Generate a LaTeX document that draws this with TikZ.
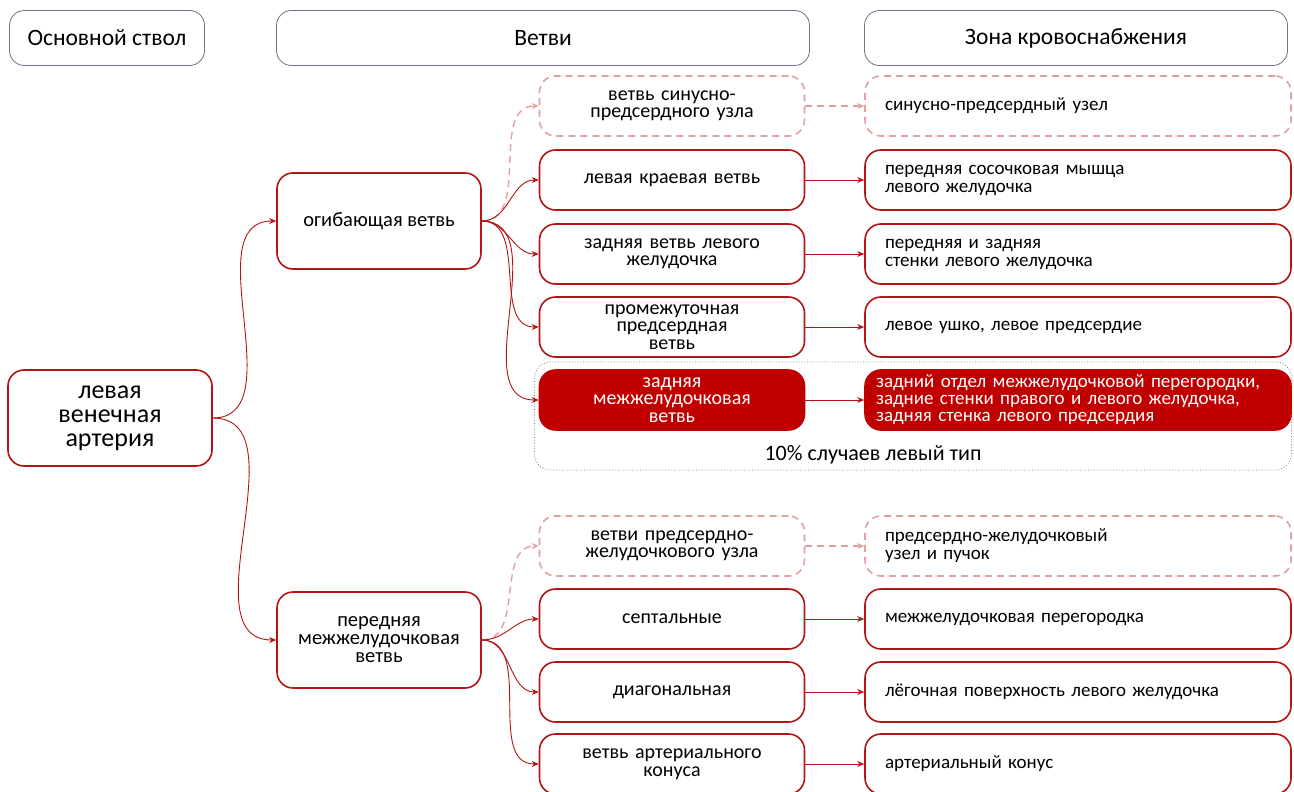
\documentclass[tikz,border=0pt]{standalone}
\usepackage{fontspec}
\setmainfont{Carlito}
\usetikzlibrary{arrows.meta}
\definecolor{arteryred}{RGB}{180,20,20}
\definecolor{hotred}{RGB}{192,0,0}
\definecolor{faintred}{RGB}{226,160,160}
\definecolor{headgray}{RGB}{105,115,135}
\definecolor{framegray}{RGB}{140,115,105}

\begin{document}
\begin{tikzpicture}[x=1pt,y=-1pt,
    headbox/.style={draw=headgray,rounded corners=15pt,line width=0.8pt,minimum height=55pt,font=\fontsize{23.5}{23}\selectfont},
    trunk/.style={draw=arteryred,line width=1.6pt,rounded corners=16pt,minimum width=204pt,minimum height=96pt,align=center},
    branch/.style={draw=arteryred,line width=1.6pt,rounded corners=16pt,minimum height=60pt,text width=245pt,inner xsep=10pt,align=center,font=\fontsize{20}{17.5}\selectfont},
    zone/.style={draw=arteryred,line width=1.6pt,rounded corners=16pt,minimum height=60pt,text width=386pt,inner xsep=20pt,align=left,font=\fontsize{19}{18}\selectfont},
    ghost/.style={draw=faintred,dash pattern=on 7pt off 5pt},
    hot/.style={fill=hotred,draw=hotred,text=white},
    link/.style={arteryred,line width=0.9pt,-{Stealth[length=7pt,width=6pt]}},
    ghostlink/.style={faintred,line width=1.4pt,dash pattern=on 7pt off 5pt,-{Stealth[length=7pt,width=6pt]}}
]
    \useasboundingbox (0,0) rectangle (1294,792);

    % Column headers
    \node[headbox,minimum width=195pt] (hstem) at (107,38) {Основной ствол};
    \node[headbox,minimum width=533pt] (hbranch) at (543,38) {Ветви};
    \node[headbox,minimum width=423pt] (hzone) at (1076,38) {Зона кровоснабжения};

    % Left type frame (drawn first, behind the boxes)
    \node[draw=framegray,dotted,line width=0.8pt,rounded corners=16pt,minimum width=757pt,minimum height=108pt] (lefttype) at (913,416) {};
    \node[font=\fontsize{22}{22}\selectfont] (ltlabel) at (873,455) {10\% случаев левый тип};

    % Main trunk and its two branches
    \node[trunk,font=\fontsize{26}{24}\selectfont] (lca) at (110,418) {левая\\венечная\\артерия};
    \node[trunk,font=\fontsize{20.5}{18}\selectfont] (cx) at (379,221) {огибающая ветвь};
    \node[trunk,font=\fontsize{20.5}{18}\selectfont] (lad) at (379,640) {передняя\\межжелудочковая\\ветвь};

    % Branches of the circumflex
    \node[branch,ghost] (sanode) at (672,106) {ветвь синусно-\\предсердного узла};
    \node[branch] (lmb) at (672,180) {левая краевая ветвь};
    \node[branch] (plv) at (672,254) {задняя ветвь левого\\желудочка};
    \node[branch] (iab) at (672,327) {промежуточная\\предсердная\\ветвь};
    \node[branch,hot] (pda) at (672,400) {задняя\\межжелудочковая\\ветвь};

    % Branches of the anterior interventricular
    \node[branch,ghost] (avnode) at (672,546) {ветви предсердно-\\желудочкового узла};
    \node[branch] (sept) at (672,619) {септальные};
    \node[branch] (diag) at (672,692) {диагональная};
    \node[branch] (conus) at (672,764) {ветвь артериального\\конуса};

    % Supply zones
    \node[zone,ghost] (sazone) at (1078,106) {синусно-предсердный узел};
    \node[zone] (lmbzone) at (1078,180) {передняя сосочковая мышца\\левого желудочка};
    \node[zone] (plvzone) at (1078,254) {передняя и задняя\\стенки левого желудочка};
    \node[zone] (iabzone) at (1078,327) {левое ушко, левое предсердие};
    \node[zone,hot,text width=404pt,inner xsep=11pt,font=\fontsize{19}{17}\selectfont] (pdazone) at (1078,400) {задний отдел межжелудочковой перегородки,\\задние стенки правого и левого желудочка,\\задняя стенка левого предсердия};
    \node[zone,ghost] (avzone) at (1078,546) {предсердно-желудочковый\\узел и пучок};
    \node[zone] (septzone) at (1078,619) {межжелудочковая перегородка};
    \node[zone] (diagzone) at (1078,692) {лёгочная поверхность левого желудочка};
    \node[zone] (conuszone) at (1078,764) {артериальный конус};

    % Connectors
    \draw[link] (lca.east) to[out=0,in=180] (cx.west);
    \draw[link] (lca.east) to[out=0,in=180] (lad.west);

    \draw[ghostlink] (cx.east) to[out=0,in=180] (sanode.west);
    \foreach \b in {lmb,plv,iab,pda}
        \draw[link] (cx.east) to[out=0,in=180] (\b.west);

    \draw[ghostlink] (lad.east) to[out=0,in=180] (avnode.west);
    \foreach \b in {sept,diag,conus}
        \draw[link] (lad.east) to[out=0,in=180] (\b.west);

    \draw[ghostlink] (sanode.east) -- (sazone.west);
    \draw[ghostlink] (avnode.east) -- (avzone.west);
    \foreach \a/\z in {lmb/lmbzone,plv/plvzone,iab/iabzone,pda/pdazone,sept/septzone,diag/diagzone,conus/conuszone}
        \draw[link] (\a.east) -- (\z.west);
\end{tikzpicture}
\end{document}
